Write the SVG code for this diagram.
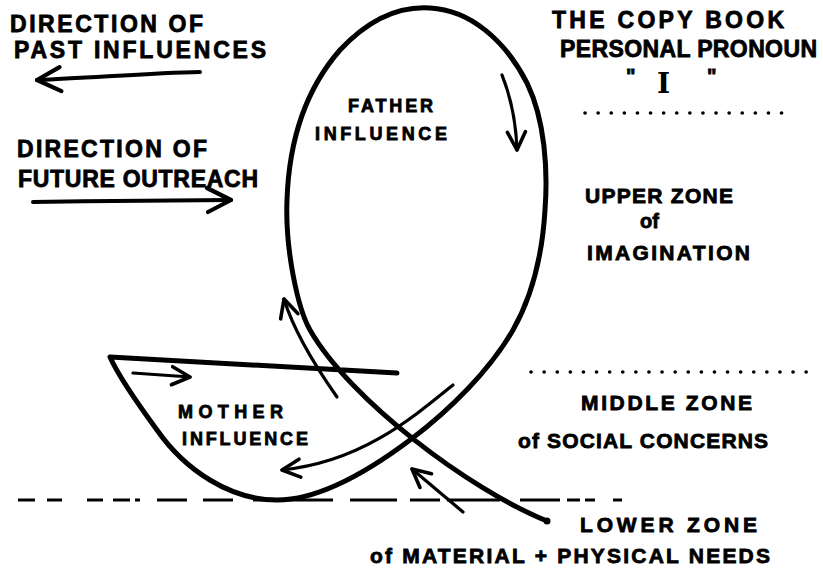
<svg xmlns="http://www.w3.org/2000/svg" width="823" height="570" viewBox="0 0 823 570">
<style>
.t{font-family:"Liberation Sans",Arial,sans-serif;font-weight:bold;fill:#000;stroke:#000;stroke-width:0.8}
.big{font-size:23px}
.med{font-size:21px}
.sm{font-size:18px}
.ink{fill:none;stroke:#000;stroke-linecap:round;stroke-linejoin:round}
.thick{stroke-width:5}
.bar{stroke-width:4}
.thin{stroke-width:3.2}
.dash{fill:none;stroke:#000;stroke-width:3;stroke-linecap:butt}
.dot{fill:none;stroke:#000;stroke-width:3.6;stroke-linecap:round;stroke-dasharray:0.1 13}
</style>
<defs>
<marker id="headL" markerUnits="userSpaceOnUse" markerWidth="34" markerHeight="34" viewBox="0 0 34 34" refX="30" refY="17" orient="auto">
<path d="M6,5 L30,17 L7,29" fill="none" stroke="#000" stroke-width="4.2" stroke-linecap="round" stroke-linejoin="round"/>
</marker>
<marker id="headS" markerUnits="userSpaceOnUse" markerWidth="28" markerHeight="28" viewBox="0 0 28 28" refX="24" refY="14" orient="auto">
<path d="M6,5 L24,14 L6,23" fill="none" stroke="#000" stroke-width="3.6" stroke-linecap="round" stroke-linejoin="round"/>
</marker>
</defs>
<rect width="823" height="570" fill="#fff"/>

<g id="zone-lines">
<path class="dot" d="M585,113 L790,113"/>
<path class="dot" d="M531,372 L810,372"/>
<path class="dash" d="M18,500 H35 M47,500 H62 M87,500 H103 M113,500 H130 M135,500 H140 M157,500 H187 M203,500 H233 M253,500 H333 M350,500 H397 M410,500 H440 M447,500 H500 M520,500 H560 M567,500 H580 M585,500 H595 M613,500 H622"/>
</g>

<g id="connectors">
<path id="copybook-loop" class="ink thick" d="M547,521 C470,490 350,400 310,330 C298,309 285,250 287,200 C289,140 305,90 340,50 C370,18 400,6 430,8 C470,10 505,40 527,83 C545,120 548,170 545,210 C542,260 530,300 513,330 C490,370 450,410 410,440 C370,470 320,500 277,500 C230,500 185,470 157,430 C135,400 118,375 110,357 L397,373"/>
<circle cx="547" cy="521" r="3.5" fill="#000"/>
<path id="arrow-past" class="ink bar" d="M200,72 C150,73 90,78 37,80" marker-end="url(#headL)"/>
<path id="arrow-future" class="ink bar" d="M33,202 C100,201 170,200 231,200" marker-end="url(#headL)"/>
<path id="arrow-father" class="ink thin" d="M502,75 C510,95 516,120 517,150" marker-end="url(#headS)"/>
<path id="arrow-up" class="ink thin" d="M337,397 C318,370 295,335 284,299" marker-end="url(#headS)"/>
<path id="arrow-bowl" class="ink thin" d="M453,385 C410,420 360,462 282,470" marker-end="url(#headS)"/>
<path id="arrow-lower" class="ink thin" d="M463,512 L412,469" marker-end="url(#headS)"/>
<path id="arrow-mother" class="ink thin" d="M133,373 L190,377" marker-end="url(#headS)"/>
</g>

<g id="past-label">
<text class="t big" x="10" y="32" textLength="193">DIRECTION OF</text>
<text class="t big" x="14" y="58" textLength="252">PAST INFLUENCES</text>
</g>
<g id="future-label">
<text class="t big" x="17" y="157" textLength="190">DIRECTION OF</text>
<text class="t big" x="18" y="187" textLength="240">FUTURE OUTREACH</text>
</g>
<g id="title">
<text class="t big" x="552" y="28" textLength="232">THE COPY BOOK</text>
<text class="t big" x="560" y="57" textLength="257">PERSONAL PRONOUN</text>
<text class="t" style="font-size:20px" x="626" y="83">"</text>
<text style="font-family:'DejaVu Serif',serif;font-weight:bold;font-size:28px" x="657" y="93">I</text>
<text class="t" style="font-size:20px" x="707" y="83">"</text>
</g>
<g id="father">
<text class="t sm" x="348" y="112" textLength="85">FATHER</text>
<text class="t sm" x="315" y="140" textLength="132">INFLUENCE</text>
</g>
<g id="mother">
<text class="t sm" x="178" y="418" textLength="105">MOTHER</text>
<text class="t sm" x="182" y="445" textLength="126">INFLUENCE</text>
</g>
<g id="upper-zone">
<text class="t med" x="585" y="203" textLength="148">UPPER ZONE</text>
<text class="t" style="font-size:20px" x="640" y="228">of</text>
<text class="t med" x="587" y="260" textLength="163">IMAGINATION</text>
</g>
<g id="middle-zone">
<text class="t med" x="581" y="410" textLength="171">MIDDLE ZONE</text>
<text class="t med" x="518" y="448" textLength="250">of SOCIAL CONCERNS</text>
</g>
<g id="lower-zone">
<text class="t med" x="580" y="532" textLength="177">LOWER ZONE</text>
<text class="t med" x="370" y="563" textLength="400">of MATERIAL + PHYSICAL NEEDS</text>
</g>
</svg>
